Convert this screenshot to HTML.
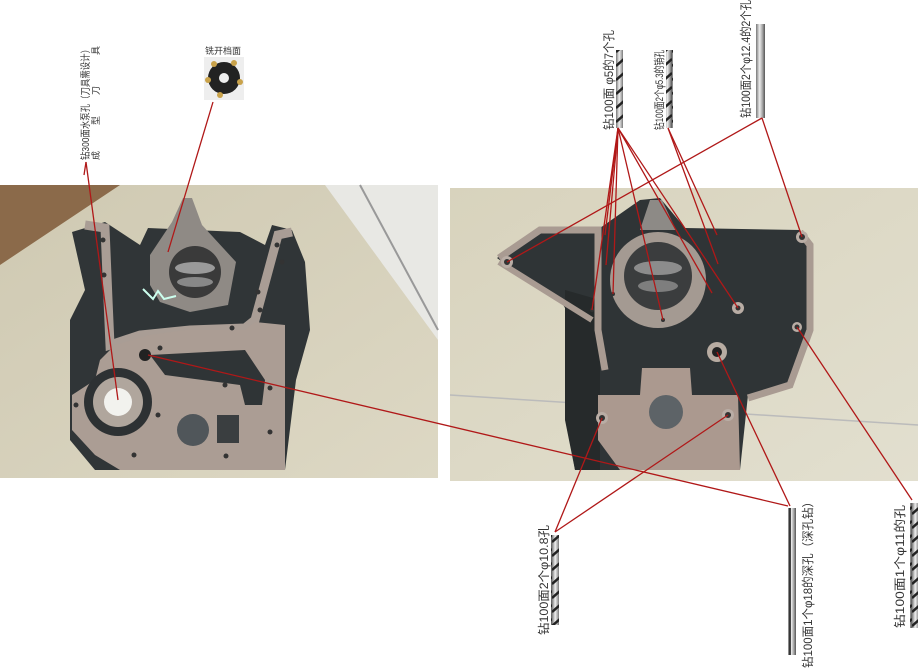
<!DOCTYPE html>
<html><head><meta charset="utf-8"><style>
html,body{margin:0;padding:0;background:#fff;}
svg{display:block;}
text{font-family:"Liberation Sans","Noto Sans CJK SC",sans-serif;fill:#333;}
</style></head><body>
<svg width="920" height="670" viewBox="0 0 920 670" xmlns="http://www.w3.org/2000/svg">
<defs>
<linearGradient id="drill" x1="0" x2="1" y1="0" y2="0">
<stop offset="0" stop-color="#777"/><stop offset="0.4" stop-color="#eee"/><stop offset="0.7" stop-color="#aaa"/><stop offset="1" stop-color="#555"/>
</linearGradient>
<pattern id="flute" width="8" height="14" patternUnits="userSpaceOnUse">
<rect width="8" height="14" fill="url(#drill)"/>
<path d="M0 10 L8 3" stroke="#222" stroke-width="2.5"/>
</pattern>
<linearGradient id="floorL" x1="0" y1="0" x2="1" y2="1">
<stop offset="0" stop-color="#cfc9b2"/><stop offset="1" stop-color="#ddd8c4"/>
</linearGradient>
<linearGradient id="floorR" x1="0" y1="0" x2="1" y2="1">
<stop offset="0" stop-color="#d8d3bd"/><stop offset="1" stop-color="#e2dfcf"/>
</linearGradient>
</defs>

<!-- LEFT PHOTO -->
<rect x="0" y="185" width="438" height="293" fill="url(#floorL)"/>
<polygon points="0,185 120,185 0,265" fill="#8b6a4a"/>
<polygon points="325,185 438,185 438,340" fill="#e8e8e4"/>
<line x1="360" y1="185" x2="438" y2="330" stroke="#999" stroke-width="2"/>
<!-- dark body -->
<polygon points="72,232 105,222 140,245 148,228 240,232 265,245 272,225 292,230 305,262 310,330 296,380 285,470 95,470 70,440 70,320 85,290" fill="#303537"/>
<!-- gasket frame -->
<polyline points="85,225 105,228 108,300 110,345 140,335 190,330 245,328 255,320 278,235 292,232" fill="none" stroke="#a99d95" stroke-width="9"/>
<!-- lower plate -->
<polygon points="100,360 115,345 150,335 185,330 245,330 255,322 285,325 285,470 120,470 95,455 72,430 72,395 95,380" fill="#ab9d94"/>
<polygon points="150,355 245,350 265,380 262,405 245,405 240,385 165,375" fill="#2f3436"/>
<!-- top housing -->
<polygon points="150,255 172,222 183,198 192,198 202,225 236,262 228,305 190,312 160,302 150,285" fill="#8f8a85"/>
<circle cx="195" cy="272" r="26" fill="#3a3a3a"/>
<ellipse cx="195" cy="268" rx="20" ry="6" fill="#9a9a9a"/>
<ellipse cx="195" cy="282" rx="18" ry="5" fill="#888"/>
<!-- ring -->
<circle cx="118" cy="402" r="34" fill="#2d3133"/>
<circle cx="118" cy="402" r="25" fill="#b0a69d"/>
<circle cx="118" cy="402" r="14" fill="#f2f2ee"/>
<!-- cap -->
<circle cx="193" cy="430" r="16" fill="#50565a"/>
<rect x="217" y="415" width="22" height="28" fill="#3a3e40"/>
<circle cx="145" cy="355" r="6" fill="#222"/>
<path d="M143 289 l10 10 l5 -8 l6 8 l12 -3" stroke="#cfe" stroke-width="2" fill="none"/>
<g fill="#333">
<circle cx="103" cy="240" r="2.5"/><circle cx="104" cy="275" r="2.5"/><circle cx="277" cy="245" r="2.5"/><circle cx="282" cy="262" r="2.5"/>
<circle cx="258" cy="292" r="2.5"/><circle cx="260" cy="310" r="2.5"/><circle cx="232" cy="328" r="2.5"/><circle cx="160" cy="348" r="2.5"/>
<circle cx="225" cy="385" r="2.5"/><circle cx="270" cy="388" r="2.5"/><circle cx="158" cy="415" r="2.5"/><circle cx="270" cy="432" r="2.5"/>
<circle cx="134" cy="455" r="2.5"/><circle cx="226" cy="456" r="2.5"/><circle cx="76" cy="405" r="2.5"/>
</g>

<!-- RIGHT PHOTO -->
<rect x="450" y="188" width="468" height="293" fill="url(#floorR)"/>
<line x1="450" y1="395" x2="918" y2="425" stroke="#bbb" stroke-width="1.5"/>
<!-- dark body -->
<polygon points="497,258 540,228 600,228 640,200 660,198 685,228 800,230 812,245 812,330 790,385 748,395 740,470 700,470 620,470 575,470 570,440 575,380 585,340 560,300 520,275" fill="#2f3436"/>
<polygon points="565,290 600,300 600,470 575,470 565,420" fill="#262a2b"/>
<!-- frame -->
<polyline points="499,258 540,230 598,230 598,330 605,370" fill="none" stroke="#a99b92" stroke-width="7"/>
<polyline points="800,232 810,245 810,330 790,385 748,398" fill="none" stroke="#a99b92" stroke-width="7"/>
<path d="M499 262 Q560 300 592 320" stroke="#a99b92" stroke-width="6" fill="none"/>
<!-- lower plate -->
<polygon points="598,395 640,395 642,368 690,368 692,395 738,395 740,470 620,470 598,440" fill="#ab998f"/>
<!-- housing -->
<polygon points="640,230 650,200 662,200 676,230" fill="#8d8a86"/>
<circle cx="658" cy="280" r="48" fill="#a49a92"/>
<circle cx="658" cy="276" r="34" fill="#3b3d3e"/>
<ellipse cx="658" cy="268" rx="24" ry="7" fill="#8c8c8c"/>
<ellipse cx="658" cy="286" rx="20" ry="6" fill="#7e7e7e"/>
<!-- boss -->
<circle cx="717" cy="352" r="10" fill="#b8aca2"/>
<circle cx="717" cy="352" r="5" fill="#222"/>
<circle cx="666" cy="412" r="17" fill="#5d6367"/>
<g fill="#b9ada5">
<circle cx="507" cy="262" r="6"/><circle cx="802" cy="237" r="6"/><circle cx="797" cy="327" r="5"/><circle cx="738" cy="308" r="6"/><circle cx="602" cy="418" r="6"/><circle cx="728" cy="415" r="6"/>
</g>
<g fill="#333">
<circle cx="507" cy="262" r="3"/><circle cx="802" cy="237" r="3"/><circle cx="797" cy="327" r="2.5"/><circle cx="738" cy="308" r="2.5"/><circle cx="602" cy="418" r="3"/><circle cx="728" cy="415" r="3"/>
<circle cx="605" cy="235" r="2"/><circle cx="606" cy="265" r="2"/><circle cx="613" cy="294" r="2"/><circle cx="592" cy="310" r="2"/><circle cx="663" cy="320" r="2"/><circle cx="717" cy="235" r="2"/><circle cx="718" cy="264" r="2"/><circle cx="712" cy="293" r="2"/>
</g>

<!-- TOOLS -->
<rect x="616" y="50" width="7" height="78" fill="url(#flute)"/>
<rect x="666" y="50" width="7" height="78" fill="url(#flute)"/>
<rect x="756" y="24" width="9" height="94" fill="url(#drill)"/>
<rect x="551" y="535" width="8" height="90" fill="url(#flute)"/>
<rect x="788" y="508" width="8" height="147" fill="url(#drill)"/>
<line x1="790" y1="508" x2="790" y2="655" stroke="#111" stroke-width="1.5"/>
<rect x="910" y="503" width="8" height="125" fill="url(#flute)"/>
<!-- cutter -->
<rect x="204" y="57" width="40" height="43" fill="#eee"/>
<circle cx="224" cy="78" r="16" fill="#222"/>
<circle cx="224" cy="78" r="5" fill="#eee"/>
<g fill="#c9a24a"><circle cx="214" cy="64" r="3"/><circle cx="234" cy="63" r="3"/><circle cx="208" cy="80" r="3"/><circle cx="240" cy="82" r="3"/><circle cx="220" cy="95" r="3"/></g>

<!-- LINES -->
<g stroke="#b01818" stroke-width="1.3" fill="none">
<line x1="86" y1="162" x2="118" y2="400"/>
<line x1="86" y1="162" x2="84" y2="175"/>
<line x1="213" y1="102" x2="168" y2="252"/>
<line x1="148" y1="355" x2="788" y2="506"/>
<line x1="618" y1="128" x2="605" y2="235"/>
<line x1="618" y1="128" x2="606" y2="265"/>
<line x1="618" y1="128" x2="613" y2="294"/>
<line x1="618" y1="128" x2="592" y2="310"/>
<line x1="618" y1="128" x2="663" y2="320"/>
<line x1="618" y1="128" x2="712" y2="293"/>
<line x1="618" y1="128" x2="738" y2="308"/>
<line x1="668" y1="128" x2="717" y2="235"/>
<line x1="668" y1="128" x2="718" y2="264"/>
<line x1="762" y1="118" x2="507" y2="262"/>
<line x1="762" y1="118" x2="802" y2="237"/>
<line x1="555" y1="532" x2="602" y2="418"/>
<line x1="555" y1="532" x2="728" y2="415"/>
<line x1="790" y1="506" x2="717" y2="352"/>
<line x1="912" y1="500" x2="797" y2="327"/>
</g>

<!-- LABELS -->
<text transform="translate(613,130) rotate(-90)" font-size="12" textLength="100" lengthAdjust="spacingAndGlyphs">钻100面 φ5的7个孔</text>
<text transform="translate(663,130) rotate(-90)" font-size="11" textLength="80" lengthAdjust="spacingAndGlyphs">钻100面2个φ5.3的销孔</text>
<text transform="translate(750,118) rotate(-90)" font-size="12" textLength="118" lengthAdjust="spacingAndGlyphs">钻100面2个φ12.4的2个孔</text>
<text transform="translate(548,635) rotate(-90)" font-size="12" textLength="110" lengthAdjust="spacingAndGlyphs">钻100面2个φ10.8孔</text>
<text transform="translate(812,668) rotate(-90)" font-size="12" textLength="172" lengthAdjust="spacingAndGlyphs">钻100面1个φ18的深孔（深孔钻）</text>
<text transform="translate(904,628) rotate(-90)" font-size="12" textLength="123" lengthAdjust="spacingAndGlyphs">钻100面1个φ11的孔</text>
<text transform="translate(89,160) rotate(-90)" font-size="10" textLength="115" lengthAdjust="spacingAndGlyphs">钻300面水泵孔（刀具需设计）</text>
<text transform="translate(99,160) rotate(-90)" font-size="9">成</text>
<text transform="translate(99,125) rotate(-90)" font-size="9">型</text>
<text transform="translate(99,95) rotate(-90)" font-size="9">刀</text>
<text transform="translate(99,55) rotate(-90)" font-size="9">具</text>
<text x="205" y="54" font-size="9" textLength="36" lengthAdjust="spacingAndGlyphs">铣开档面</text>
</svg>
</body></html>
